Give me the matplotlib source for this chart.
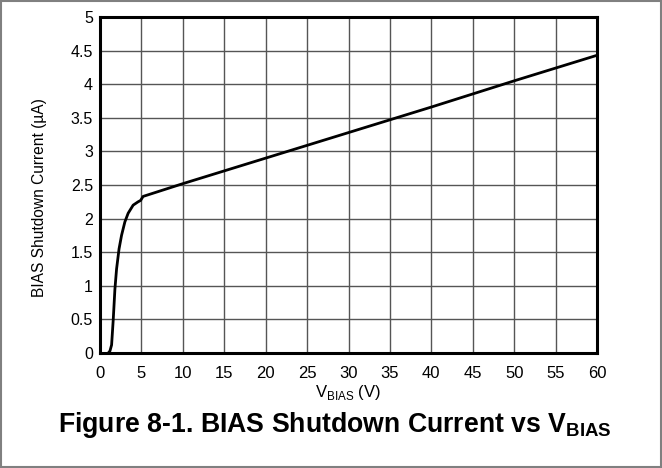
import matplotlib
matplotlib.use('Agg')
import matplotlib.pyplot as plt
from matplotlib.patches import Rectangle

plt.rcParams['font.family'] = ['Liberation Sans', 'DejaVu Sans']

# 读图得到的曲线数据
v_bias = [1.0, 1.2, 1.4, 1.6, 1.8, 2.0, 2.3, 2.6, 3.0, 3.4, 4.0, 4.6, 4.9, 5.2,
          10, 20, 30, 40, 50, 60]
i_bias = [0.0, 0.03, 0.12, 0.5, 0.95, 1.25, 1.55, 1.75, 1.95, 2.08, 2.2, 2.25, 2.27, 2.33,
          2.52, 2.9, 3.28, 3.66, 4.05, 4.43]
x_ticks = list(range(0, 61, 5))
y_ticks = [0, 0.5, 1, 1.5, 2, 2.5, 3, 3.5, 4, 4.5, 5]
y_labels = ['0', '0.5', '1', '1.5', '2', '2.5', '3', '3.5', '4', '4.5', '5']

fig = plt.figure(figsize=(6.62, 4.68), dpi=100)
ax = fig.add_axes([100/662, 1 - 353/468, 497/662, 336/468])

ax.plot(v_bias, i_bias, color='black', lw=2, solid_capstyle='round', zorder=3)

ax.set_xlim(0, 60)
ax.set_ylim(0, 5)
ax.set_xticks(x_ticks)
ax.set_yticks(y_ticks)
ax.set_yticklabels(y_labels)
ax.tick_params(axis='x', length=0, labelsize=12, pad=9)
ax.tick_params(axis='y', length=0, labelsize=11.5, pad=5)
ax.grid(True, color='#555555', lw=1)
for s in ax.spines.values():
    s.set_linewidth(2.2)
    s.set_color('black')

ax.set_xlabel('V$_{\\mathregular{BIAS}}$ (V)', fontsize=12, va='center')
ax.xaxis.set_label_coords(0.5, -40/336)
ax.set_ylabel('BIAS Shutdown Current (\u00b5A)', fontsize=11.2, va='center')
ax.yaxis.set_label_coords(-60/497, 0.464)

fig.text(335/662, 1 - 425/468, 'Figure 8-1. BIAS Shutdown Current vs V$_{\\mathregular{BIAS}}$',
         ha='center', va='center', fontsize=19.2, fontweight='bold')

# 外框
fig.patches.append(Rectangle((0.002, 0.002), 0.996, 0.996, transform=fig.transFigure,
                             fill=False, edgecolor='#808080', lw=1.5))

fig.savefig('out.png', dpi=100)
